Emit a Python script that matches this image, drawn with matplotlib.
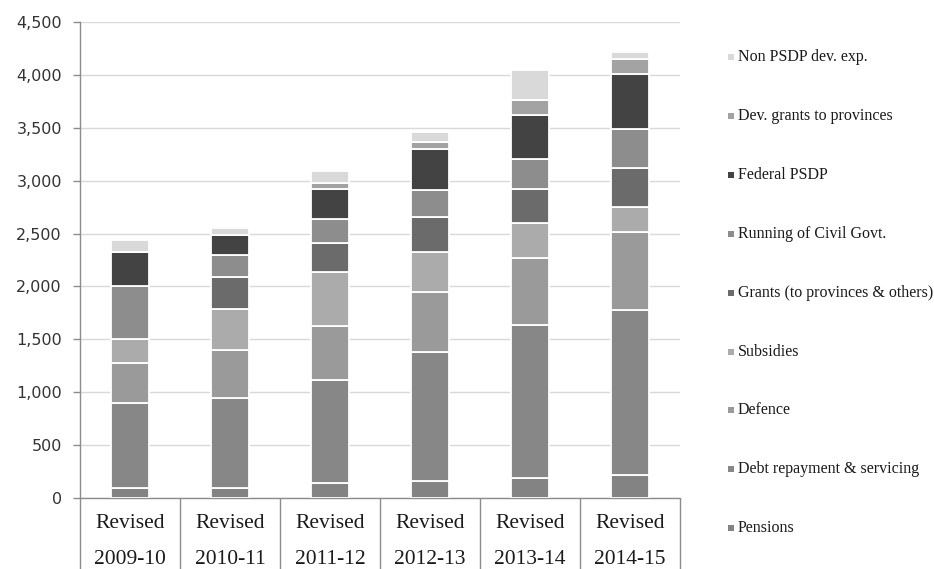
import matplotlib
matplotlib.use("Agg")
import matplotlib.pyplot as plt
from matplotlib.patches import Rectangle
from matplotlib.ticker import FuncFormatter, FixedLocator
import numpy as np

# Federal expenditure by head (Rs billion), revised estimates
years = ["2009-10", "2010-11", "2011-12", "2012-13", "2013-14", "2014-15"]
pensions = [92, 92, 145, 161, 186, 217]
debt_servicing = [808, 850, 970, 1216, 1449, 1560]
defence = [373, 457, 510, 567, 630, 734]
subsidies = [229, 384, 514, 378, 331, 242]
grants = [0, 303, 274, 331, 324, 363]
civil_govt = [505, 214, 221, 258, 284, 368]
federal_psdp = [315, 185, 290, 390, 415, 529]
dev_grants = [0, 0, 50, 65, 142, 136]
non_psdp = [120, 64, 120, 95, 284, 63]

series_names = [
    "Pensions",
    "Debt repayment & servicing",
    "Defence",
    "Subsidies",
    "Grants (to provinces & others)",
    "Running of Civil Govt.",
    "Federal PSDP",
    "Dev. grants to provinces",
    "Non PSDP dev. exp.",
]
series_values = [pensions, debt_servicing, defence, subsidies, grants,
                 civil_govt, federal_psdp, dev_grants, non_psdp]
series_colors = ["#838383", "#878787", "#9a9a9a", "#ababab", "#6b6b6b",
                 "#8d8d8d", "#434343", "#a3a3a3", "#d9d9d9"]

yticks = [0, 500, 1000, 1500, 2000, 2500, 3000, 3500, 4000, 4500]

W, H = 934, 569
fig = plt.figure(figsize=(W / 100, H / 100), dpi=100)
ax = fig.add_axes([80 / W, 71 / H, 600 / W, 476 / H])

x = np.arange(len(years))
bottom = np.zeros(len(years))
for name, vals, col in zip(series_names, series_values, series_colors):
    vals = np.asarray(vals, dtype=float)
    ax.bar(x, vals, width=0.385, bottom=bottom, color=col,
           edgecolor="white", linewidth=1.3, zorder=3, label=name)
    bottom += vals

ax.set_xlim(-0.5, len(years) - 0.5)
ax.set_ylim(0, 4500)
ax.yaxis.set_major_locator(FixedLocator(yticks))
ax.yaxis.set_major_formatter(FuncFormatter(lambda v, p: f"{int(v):,}"))
ax.grid(axis="y", color="#d9d9d9", linewidth=1.0, zorder=0)
ax.set_axisbelow(True)

for s in ["top", "right"]:
    ax.spines[s].set_visible(False)
for s in ["left", "bottom"]:
    ax.spines[s].set_color("#8c8c8c")
    ax.spines[s].set_linewidth(1.0)

ax.tick_params(axis="y", direction="out", length=5, width=1, color="#8c8c8c",
               pad=8, labelsize=11.5, labelcolor="#333333")
for lab in ax.get_yticklabels():
    lab.set_family("DejaVu Sans")

# Category dividers below the axis, drawn as long outward ticks
ax.set_xticks(np.arange(-0.5, len(years), 1.0))
ax.set_xticklabels([])
ax.tick_params(axis="x", direction="out", length=52, width=1, color="#8c8c8c")

for i, yr in enumerate(years):
    ax.text(i, -26 / 476, "Revised", transform=ax.get_xaxis_transform(),
            ha="center", va="center", fontsize=15.5, family="Liberation Serif",
            color="#1a1a1a")
    ax.text(i, -62 / 476, yr, transform=ax.get_xaxis_transform(),
            ha="center", va="center", fontsize=15.5, family="Liberation Serif",
            color="#1a1a1a")

# Legend column on the right, top entry first
for k, (name, col) in enumerate(zip(series_names[::-1], series_colors[::-1])):
    yc = 57 + k * 58.9
    fig.patches.append(Rectangle((728 / W, 1 - (yc + 3) / H), 6 / W, 6 / H,
                                 transform=fig.transFigure, facecolor=col,
                                 edgecolor="none"))
    fig.text(738 / W, 1 - yc / H, name, ha="left", va="center",
             fontsize=11.5, family="Liberation Serif", color="#1a1a1a")

fig.savefig("out.png", dpi=100, facecolor="white")
